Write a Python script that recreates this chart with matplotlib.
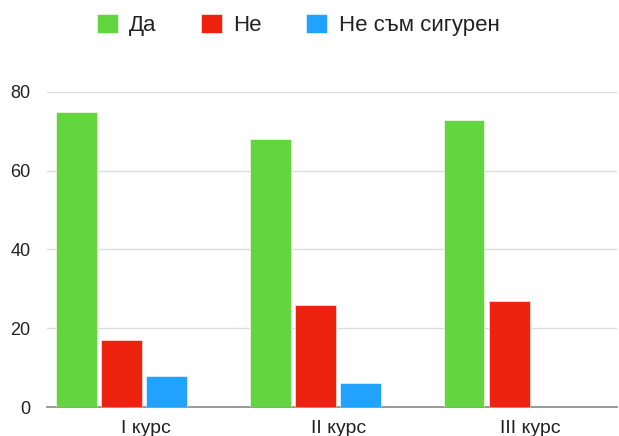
import matplotlib
matplotlib.use("Agg")
import matplotlib.pyplot as plt
import numpy as np

categories = ["I курс", "II курс", "III курс"]
series_names = ["Да", "Не", "Не съм сигурен"]
da = [75, 68, 73]
ne = [17, 26, 27]
ne_sam = [8, 6, 0]
yticks = [0, 20, 40, 60, 80]

colors = ["#63D63F", "#EE230F", "#22A2FF"]

plt.rcParams['font.family'] = ['Liberation Sans', 'DejaVu Sans']

fig = plt.figure(figsize=(6.19, 4.36), dpi=100)
ax = fig.add_axes([47/619, 1 - 407/436, 570/619, (407-92)/436])

x = np.arange(len(categories))
group_pos = x * 1.02
offsets = [-0.345, -0.108, 0.129]
width = 0.215
for vals, off, c, name in zip([da, ne, ne_sam], offsets, colors, series_names):
    ax.bar(group_pos + off, vals, width=width, color=c, label=name,
           edgecolor='white', linewidth=0.4, zorder=3)

ax.set_xlim(-0.5, 2.5)
ax.set_ylim(0, 80)
ax.set_yticks(yticks)
ax.set_xticks(x * 1.013 + 0.02)
ax.set_xticklabels(categories, fontsize=14)
ax.grid(axis='y', color='#dddddd', linewidth=1, zorder=0)
for s in ['top', 'right', 'left']:
    ax.spines[s].set_visible(False)
ax.spines['bottom'].set_color('#888888')
ax.spines['bottom'].set_linewidth(1.2)
ax.tick_params(axis='both', length=0, colors='#222222')
ax.tick_params(axis='y', pad=12, labelsize=13)
ax.tick_params(axis='x', pad=9)

leg = fig.legend(loc='center left', bbox_to_anchor=(97/619, 1 - 25/436), ncol=3,
                 frameon=False, fontsize=16, handlelength=0.95, handleheight=0.95,
                 handletextpad=0.5, columnspacing=2.0, borderpad=0, borderaxespad=0)
for t in leg.get_texts():
    t.set_color('#222222')

fig.savefig("out.png", dpi=100)
